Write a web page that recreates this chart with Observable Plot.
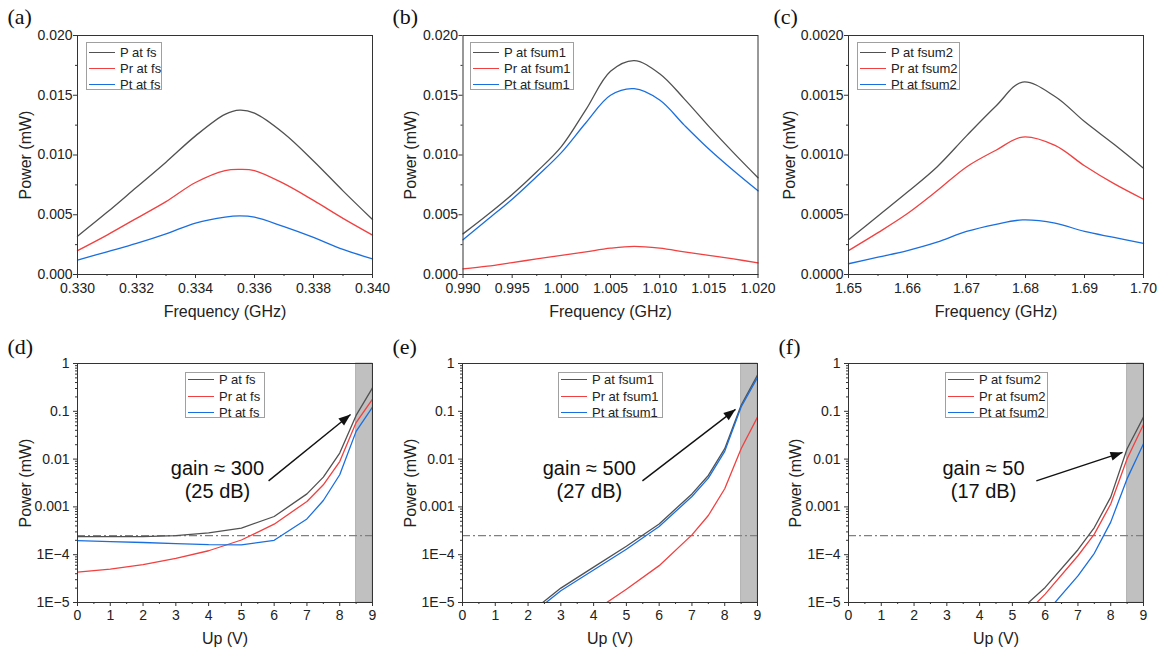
<!DOCTYPE html>
<html><head><meta charset="utf-8">
<script src="https://cdn.jsdelivr.net/npm/d3@7"></script>
<script src="https://cdn.jsdelivr.net/npm/@observablehq/plot@0.6"></script>
<style>
html,body{margin:0;padding:0;background:#fff;}
#root{position:relative;width:1163px;height:655px;overflow:hidden;background:#fff;font-family:'Liberation Sans',Arial,sans-serif;}
.panel{position:absolute;}
.panel svg{overflow:visible;}
.legend{position:absolute;border:1px solid #a0a0a0;background:#fff;box-sizing:border-box;}
.legend .row{position:absolute;left:0;height:16px;display:flex;align-items:center;font-size:13px;color:#222;white-space:nowrap;}
.legend .sw{display:inline-block;width:26px;height:0;border-top:1.3px solid;margin:0 5px 0 2px;}
</style></head><body><div id="root"></div>
<script>
// ---------- data ----------
const COLORS = ["#515151", "#F14040", "#1A6FDF"];
const namesA = ["P at fs", "Pr at fs", "Pt at fs"];
const namesB = ["P at fsum1", "Pr at fsum1", "Pt at fsum1"];
const namesC = ["P at fsum2", "Pr at fsum2", "Pt at fsum2"];

// (a) power vs frequency around fs
const freqA = [0.330, 0.331, 0.332, 0.333, 0.334, 0.335, 0.3355, 0.336, 0.337, 0.338, 0.339, 0.340];
const pA  = [0.0032, 0.0052, 0.0073, 0.0094, 0.0116, 0.0134, 0.01375, 0.0135, 0.0118, 0.0095, 0.0070, 0.0046];
const prA = [0.0020, 0.0033, 0.0047, 0.0061, 0.0077, 0.0087, 0.0088, 0.0087, 0.0076, 0.0062, 0.0047, 0.0033];
const ptA = [0.0012, 0.0019, 0.0026, 0.0034, 0.0043, 0.0048, 0.0049, 0.0048, 0.0040, 0.0031, 0.0021, 0.0013];

// (b) around fsum1
const freqB = [0.990, 0.9925, 0.995, 0.9975, 1.000, 1.0025, 1.005, 1.0074, 1.010, 1.0125, 1.015, 1.0175, 1.020];
const pB  = [0.0034, 0.0050, 0.0067, 0.0086, 0.0107, 0.0138, 0.0170, 0.0179, 0.0168, 0.0147, 0.0124, 0.0102, 0.0081];
const prB = [0.00047, 0.0007, 0.0010, 0.0013, 0.0016, 0.0019, 0.0022, 0.00235, 0.0022, 0.0019, 0.0016, 0.0013, 0.00098];
const ptB = [0.0029, 0.0046, 0.0063, 0.0082, 0.0102, 0.0127, 0.0150, 0.01555, 0.0146, 0.0125, 0.0105, 0.0087, 0.0070];

// (c) around fsum2
const freqC = [1.650, 1.655, 1.660, 1.665, 1.670, 1.675, 1.6795, 1.685, 1.690, 1.695, 1.700];
const pC  = [0.00029, 0.00049, 0.00069, 0.00090, 0.00116, 0.00141, 0.00161, 0.00149, 0.00128, 0.00109, 0.00089];
const prC = [0.00020, 0.00035, 0.00051, 0.00070, 0.00090, 0.00104, 0.00115, 0.00108, 0.00091, 0.00076, 0.00063];
const ptC = [0.00009, 0.000145, 0.00020, 0.00027, 0.00036, 0.00042, 0.000457, 0.00043, 0.00036, 0.00031, 0.00026];

// (d)-(f) power vs pump voltage
const up = [0, 1, 2, 3, 4, 5, 6, 7, 7.5, 8, 8.5, 9];
const pD  = [2.4e-4, 2.4e-4, 2.4e-4, 2.5e-4, 2.85e-4, 3.6e-4, 6.3e-4, 1.87e-3, 4.2e-3, 1.34e-2, 0.082, 0.31];
const prD = [4.3e-5, 5.0e-5, 6.2e-5, 8.4e-5, 1.21e-4, 2.03e-4, 4.35e-4, 1.3e-3, 2.9e-3, 8.9e-3, 0.058, 0.18];
const ptD = [1.97e-4, 1.88e-4, 1.8e-4, 1.7e-4, 1.62e-4, 1.6e-4, 2.0e-4, 5.6e-4, 1.36e-3, 4.7e-3, 0.038, 0.123];

const pE  = [null, null, 5.7e-6, 2.0e-5, 5.5e-5, 1.5e-4, 4.4e-4, 1.87e-3, 4.55e-3, 1.65e-2, 0.134, 0.57];
const prE = [null, null, null, null, 6.5e-6, 1.9e-5, 5.9e-5, 2.6e-4, 6.6e-4, 2.4e-3, 1.65e-2, 0.076];
const ptE = [null, null, 5.0e-6, 1.76e-5, 4.8e-5, 1.3e-4, 3.9e-4, 1.65e-3, 4.0e-3, 1.45e-2, 0.123, 0.51];

const pF  = [null, null, null, null, null, 4.9e-6, 2.07e-5, 1.27e-4, 3.7e-4, 1.6e-3, 0.0165, 0.076];
const prF = [null, null, null, null, null, 3.0e-6, 1.5e-5, 9.5e-5, 2.7e-4, 1.15e-3, 0.0102, 0.053];
const ptF = [null, null, null, null, null, null, 5.8e-6, 3.6e-5, 1.07e-4, 4.8e-4, 3.9e-3, 0.021];

const shadeUp = [8.5, 9];
const noiseFloor = 2.5e-4;

const gainD = {text: "gain ≈ 300\n(25 dB)", x: 4.27, y: 3.74e-3, x1: 5.83, y1: 3.5e-3, x2: 8.33, y2: 0.086};
const gainE = {text: "gain ≈ 500\n(27 dB)", x: 3.87, y: 3.74e-3, x1: 5.49, y1: 3.5e-3, x2: 8.33, y2: 0.11};
const gainF = {text: "gain ≈ 50\n(17 dB)", x: 4.12, y: 3.74e-3, x1: 5.73, y1: 3.5e-3, x2: 8.36, y2: 0.0138};

// ticks
const xTicksA = [0.330, 0.332, 0.334, 0.336, 0.338, 0.340];
const xLabelsA = ["0.330", "0.332", "0.334", "0.336", "0.338", "0.340"];
const xMinorA = [0.331, 0.333, 0.335, 0.337, 0.339];
const xTicksB = [0.990, 0.995, 1.000, 1.005, 1.010, 1.015, 1.020];
const xLabelsB = ["0.990", "0.995", "1.000", "1.005", "1.010", "1.015", "1.020"];
const xMinorB = [0.9925, 0.9975, 1.0025, 1.0075, 1.0125, 1.0175];
const xTicksC = [1.65, 1.66, 1.67, 1.68, 1.69, 1.70];
const xLabelsC = ["1.65", "1.66", "1.67", "1.68", "1.69", "1.70"];
const xMinorC = [1.655, 1.665, 1.675, 1.685, 1.695];
const yTicksAB = [0, 0.005, 0.010, 0.015, 0.020];
const yLabelsAB = ["0.000", "0.005", "0.010", "0.015", "0.020"];
const yMinorAB = [0.0025, 0.0075, 0.0125, 0.0175];
const yTicksC = [0, 0.0005, 0.0010, 0.0015, 0.0020];
const yLabelsC = ["0.0000", "0.0005", "0.0010", "0.0015", "0.0020"];
const yMinorC = [0.00025, 0.00075, 0.00125, 0.00175];
const upTicks = [0, 1, 2, 3, 4, 5, 6, 7, 8, 9];
const upLabels = ["0", "1", "2", "3", "4", "5", "6", "7", "8", "9"];
const upMinor = [0.5, 1.5, 2.5, 3.5, 4.5, 5.5, 6.5, 7.5, 8.5];
const logTicks = [1e-5, 1e-4, 1e-3, 1e-2, 1e-1, 1];
const logLabels = ["1E\u22125", "1E\u22124", "0.001", "0.01", "0.1", "1"];
const logMinor = [];
for (let k = -5; k < 0; k++) for (let m = 2; m <= 9; m++) logMinor.push(m * Math.pow(10, k));

// ---------- drawing ----------
const FONT = "'Liberation Sans', Arial, Helvetica, sans-serif";
const SERIF = "'Liberation Serif', 'Times New Roman', serif";
const PW = 295, PH = 239, AXIS = "#333";
const root = document.getElementById("root");

function axes(xT, xL, xM, yT, yL, yM, xPad, yPad) {
  return [
    Plot.axisX(xT, {tickSize: 4, tickPadding: xPad, tickFormat: d => xL[xT.indexOf(d)], label: null, stroke: AXIS}),
    Plot.axisX(xM, {tickSize: 2, tickFormat: () => "", label: null, stroke: AXIS}),
    Plot.axisY(yT, {tickSize: 4, tickPadding: yPad, tickFormat: d => yL[yT.indexOf(d)], label: null, stroke: AXIS}),
    Plot.axisY(yM, {tickSize: 2, tickFormat: () => "", label: null, stroke: AXIS})
  ];
}

function seriesLines(xs, series, clip, curve) {
  return series.map((vals, i) =>
    Plot.line(xs.map((x, j) => ({x, v: vals[j]})), {x: "x", y: "v", stroke: COLORS[i], strokeWidth: 1.3, clip, curve}));
}

function labels(letter, letterDx, letterDy, yDx, xTitle, xDy) {
  return [
    Plot.text([letter], {frameAnchor: "top-left", dx: letterDx, dy: letterDy, textAnchor: "start", lineAnchor: "middle", fontFamily: SERIF, fontSize: 22, fill: "#111"}),
    Plot.text(["Power (mW)"], {frameAnchor: "left", dx: yDx, rotate: -90, textAnchor: "middle", lineAnchor: "middle", fontSize: 16, fill: "#222"}),
    Plot.text([xTitle], {frameAnchor: "bottom", dy: xDy, textAnchor: "middle", lineAnchor: "middle", fontSize: 16, fill: "#222"})
  ];
}

function addPanel(el, left, top, width) {
  const d = document.createElement("div");
  d.className = "panel";
  d.style.left = left + "px"; d.style.top = top + "px"; d.style.width = width + "px";
  d.appendChild(el);
  root.appendChild(d);
}

function addLegend(names, left, top, width, height, first, step) {
  const box = document.createElement("div");
  box.className = "legend";
  Object.assign(box.style, {left: left + "px", top: top + "px", width: width + "px", height: height + "px"});
  names.forEach((n, i) => {
    const row = document.createElement("div");
    row.className = "row";
    row.style.top = (first + i * step - 8) + "px";
    const sw = document.createElement("span");
    sw.className = "sw"; sw.style.borderTopColor = COLORS[i];
    row.appendChild(sw);
    row.appendChild(document.createTextNode(n));
    box.appendChild(row);
  });
  root.appendChild(box);
}

function freqPanel(c) {
  const mt = 35, height = 330;
  const plot = Plot.plot({
    width: c.width, height,
    marginLeft: c.ml, marginRight: c.width - c.ml - PW, marginTop: mt, marginBottom: height - mt - PH,
    x: {domain: c.xDomain}, y: {domain: c.yDomain},
    style: {fontFamily: FONT, fontSize: "14px", color: "#222", overflow: "visible"},
    marks: [
      ...seriesLines(c.freq, c.series, false, "catmull-rom"),
      Plot.frame({stroke: AXIS}),
      ...axes(c.xT, c.xL, c.xM, c.yT, c.yL, c.yM, 5, 1),
      ...labels(c.letter, c.letterDx, -18.5, c.yDx, "Frequency (GHz)", 37)
    ]
  });
  addPanel(plot, c.left, 0, c.width);
}

function upPanel(c) {
  const mt = 38, height = 330;
  const g = c.gain;
  const dxp = (g.x2 - g.x1) / 9 * PW;
  const dyp = -(Math.log10(g.y2) - Math.log10(g.y1)) / 5 * PH;
  const ang = Math.atan2(dxp, -dyp) * 180 / Math.PI;
  const plot = Plot.plot({
    width: c.width, height,
    marginLeft: c.ml, marginRight: c.width - c.ml - PW, marginTop: mt, marginBottom: height - mt - PH,
    x: {domain: [0, 9]}, y: {type: "log", domain: [1e-5, 1]},
    style: {fontFamily: FONT, fontSize: "14px", color: "#222", overflow: "visible"},
    marks: [
      Plot.rect([shadeUp], {x1: d => d[0], x2: d => d[1], y1: 1e-5, y2: 1, fill: "#c0c0c0", stroke: "#a8a8a8", strokeWidth: 0.8}),
      Plot.ruleY([noiseFloor], {stroke: "#808080", strokeWidth: 1.2, strokeDasharray: "8,3,2,3"}),
      ...seriesLines(up, c.series, true, "linear"),
      Plot.link([g], {x1: "x1", y1: "y1", x2: "x2", y2: "y2", stroke: "#111", strokeWidth: 1.4}),
      Plot.vector([g], {x: "x2", y: "y2", rotate: ang, length: 12, r: 4.5, shape: "spike", anchor: "end", fill: "#111", stroke: "none"}),
      Plot.text([g], {x: "x", y: "y", text: "text", fontSize: 20, lineHeight: 1.12, fill: "#111"}),
      Plot.frame({stroke: AXIS}),
      ...axes(upTicks, upLabels, upMinor, logTicks, logLabels, logMinor, 4, 4),
      ...labels(c.letter, c.letterDx, -17, c.yDx, "Up (V)", 36)
    ]
  });
  addPanel(plot, c.left, 325, c.width);
}

freqPanel({left: 0, width: 385, ml: 77, freq: freqA, series: [pA, prA, ptA], xDomain: [0.330, 0.340], yDomain: [0, 0.020],
  xT: xTicksA, xL: xLabelsA, xM: xMinorA, yT: yTicksAB, yL: yLabelsAB, yM: yMinorAB, letter: "(a)", letterDx: -70, yDx: -52});
freqPanel({left: 385, width: 385, ml: 77.5, freq: freqB, series: [pB, prB, ptB], xDomain: [0.990, 1.020], yDomain: [0, 0.020],
  xT: xTicksB, xL: xLabelsB, xM: xMinorB, yT: yTicksAB, yL: yLabelsAB, yM: yMinorAB, letter: "(b)", letterDx: -70.5, yDx: -52.5});
freqPanel({left: 770, width: 393, ml: 78, freq: freqC, series: [pC, prC, ptC], xDomain: [1.65, 1.70], yDomain: [0, 0.0020],
  xT: xTicksC, xL: xLabelsC, xM: xMinorC, yT: yTicksC, yL: yLabelsC, yM: yMinorC, letter: "(c)", letterDx: -75, yDx: -59});

upPanel({left: 0, width: 385, ml: 77, series: [pD, prD, ptD], gain: gainD, letter: "(d)", letterDx: -70, yDx: -52});
upPanel({left: 385, width: 385, ml: 77, series: [pE, prE, ptE], gain: gainE, letter: "(e)", letterDx: -70, yDx: -52});
upPanel({left: 770, width: 393, ml: 78, series: [pF, prF, ptF], gain: gainF, letter: "(f)", letterDx: -70, yDx: -53});

addLegend(namesA, 86, 42, 76, 48, 9, 16);
addLegend(namesB, 470, 42, 104, 48, 9, 16);
addLegend(namesC, 857, 42, 103, 48, 9, 16);
addLegend(namesA, 185, 372, 80, 46, 6.5, 16.5);
addLegend(namesB, 558, 372, 105, 46, 6.5, 16.5);
addLegend(namesC, 945, 372, 103, 46, 6.5, 16.5);
</script></body></html>
